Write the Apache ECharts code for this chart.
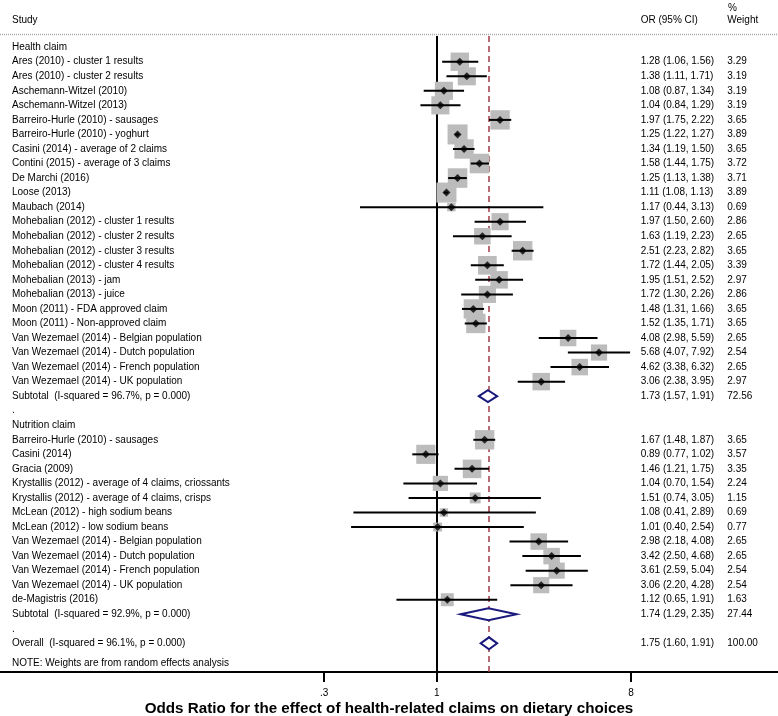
<!DOCTYPE html>
<html><head><meta charset="utf-8">
<script src="https://cdn.jsdelivr.net/npm/echarts@6/dist/echarts.min.js"></script>
<style>html,body{margin:0;padding:0;background:#fff}#c{width:778px;height:716px}</style>
</head><body><div id="c"></div>
<script>
const studies = [
  'Health claim',
  'Ares (2010) - cluster 1 results',
  'Ares (2010) - cluster 2 results',
  'Aschemann-Witzel (2010)',
  'Aschemann-Witzel (2013)',
  'Barreiro-Hurle (2010) - sausages',
  'Barreiro-Hurle (2010) - yoghurt',
  'Casini (2014) - average of 2 claims',
  'Contini (2015) - average of 3 claims',
  'De Marchi (2016)',
  'Loose (2013)',
  'Maubach (2014)',
  'Mohebalian (2012) - cluster 1 results',
  'Mohebalian (2012) - cluster 2 results',
  'Mohebalian (2012) - cluster 3 results',
  'Mohebalian (2012) - cluster 4 results',
  'Mohebalian (2013) - jam',
  'Mohebalian (2013) - juice',
  'Moon (2011) - FDA approved claim',
  'Moon (2011) - Non-approved claim',
  'Van Wezemael (2014) - Belgian population',
  'Van Wezemael (2014) - Dutch population',
  'Van Wezemael (2014) - French population',
  'Van Wezemael (2014) - UK population',
  'Subtotal  (I-squared = 96.7%, p = 0.000)',
  '.',
  'Nutrition claim',
  'Barreiro-Hurle (2010) - sausages',
  'Casini (2014)',
  'Gracia (2009)',
  'Krystallis (2012) - average of 4 claims, criossants',
  'Krystallis (2012) - average of 4 claims, crisps',
  'McLean (2012) - high sodium beans',
  'McLean (2012) - low sodium beans',
  'Van Wezemael (2014) - Belgian population',
  'Van Wezemael (2014) - Dutch population',
  'Van Wezemael (2014) - French population',
  'Van Wezemael (2014) - UK population',
  'de-Magistris (2016)',
  'Subtotal  (I-squared = 92.9%, p = 0.000)',
  '.',
  'Overall  (I-squared = 96.1%, p = 0.000)'
];
const rowKinds = [
  'head',
  'study','study','study','study','study','study','study','study','study','study','study','study',
  'study','study','study','study','study','study','study','study','study','study','study',
  'sub','blank','head',
  'study','study','study','study','study','study','study','study','study','study','study','study',
  'sub','blank','overall'
];
const orVals = [
  null,
  1.28,1.38,1.08,1.04,1.97,1.25,1.34,1.58,1.25,1.11,1.17,1.97,
  1.63,2.51,1.72,1.95,1.72,1.48,1.52,4.08,5.68,4.62,3.06,
  1.73,null,null,
  1.67,0.89,1.46,1.04,1.51,1.08,1.01,2.98,3.42,3.61,3.06,1.12,
  1.74,null,1.75
];
const ciLow = [
  null,
  1.06,1.11,0.87,0.84,1.75,1.22,1.19,1.44,1.13,1.08,0.44,1.50,
  1.19,2.23,1.44,1.51,1.30,1.31,1.35,2.98,4.07,3.38,2.38,
  1.57,null,null,
  1.48,0.77,1.21,0.70,0.74,0.41,0.40,2.18,2.50,2.59,2.20,0.65,
  1.29,null,1.60
];
const ciHigh = [
  null,
  1.56,1.71,1.34,1.29,2.22,1.27,1.50,1.75,1.38,1.13,3.13,2.60,
  2.23,2.82,2.05,2.52,2.26,1.66,1.71,5.59,7.92,6.32,3.95,
  1.91,null,null,
  1.87,1.02,1.75,1.54,3.05,2.89,2.54,4.08,4.68,5.04,4.28,1.91,
  2.35,null,1.91
];
const weights = [
  null,
  3.29,3.19,3.19,3.19,3.65,3.89,3.65,3.72,3.71,3.89,0.69,2.86,
  2.65,3.65,3.39,2.97,2.86,3.65,3.65,2.65,2.54,2.65,2.97,
  72.56,null,null,
  3.65,3.57,3.35,2.24,1.15,0.69,0.77,2.65,2.65,2.54,2.54,1.63,
  27.44,null,100.00
];
const xTickValues = [0.3, 1, 8];
const xTickLabels = ['.3', '1', '8'];
const headerStudy = 'Study';
const headerOR = 'OR (95% CI)';
const headerPct = '%';
const headerWeight = 'Weight';
const noteText = 'NOTE: Weights are from random effects analysis';
const axisTitle = 'Odds Ratio for the effect of health-related claims on dietary choices';

const FONT = "'Liberation Sans', Arial, Helvetica, sans-serif";
const rows = studies.map((_, i) => i);
const valueRows = rows.filter(i => orVals[i] != null);
const overallIdx = rowKinds.indexOf('overall');
const pooledOR = orVals[overallIdx];

const squareData = [], ciData = [], pointData = [], diamondData = [];
rows.forEach(i => {
  if (rowKinds[i] === 'study') {
    squareData.push([orVals[i], i, weights[i]]);
    ciData.push([ciLow[i], ciHigh[i], i]);
    pointData.push([orVals[i], i]);
  } else if (rowKinds[i] === 'sub' || rowKinds[i] === 'overall') {
    diamondData.push([ciLow[i], ciHigh[i], orVals[i], i]);
  }
});
const orText = i => orVals[i].toFixed(2) + ' (' + ciLow[i].toFixed(2) + ', ' + ciHigh[i].toFixed(2) + ')';
const wText = i => weights[i].toFixed(2);

const yMin = -0.77, yMax = 42.97;
function yAx(extra) {
  return Object.assign({
    type: 'value', inverse: true, min: yMin, max: yMax,
    splitLine: {show: false}, axisTick: {show: false},
    axisLine: {show: false, onZero: false}
  }, extra);
}
const labelStyle = {color: '#000', fontSize: 10, fontFamily: FONT};

const chart = echarts.init(document.getElementById('c'), null, {renderer: 'canvas'});
chart.setOption({
  animation: false,
  backgroundColor: '#fff',
  grid: {left: 0, right: 0, top: 36, bottom: 44, containLabel: false, outerBoundsMode: 'none'},
  xAxis: {
    type: 'log', logBase: 1.5, min: 0.009338, max: 38.57,
    splitLine: {show: false},
    axisLine: {onZero: false, lineStyle: {color: '#000', width: 2}},
    axisTick: {customValues: xTickValues, length: 10, lineStyle: {color: '#000', width: 2}},
    axisLabel: Object.assign({
      customValues: xTickValues, margin: 16,
      formatter: v => {
        const k = xTickValues.findIndex(t => Math.abs(t - v) < 1e-6);
        return k >= 0 ? xTickLabels[k] : '';
      }
    }, labelStyle),
    name: axisTitle, nameLocation: 'middle', nameGap: 29, nameMoveOverlap: false,
    nameTextStyle: {fontWeight: 'bold', fontSize: 15.2, color: '#000', fontFamily: FONT}
  },
  yAxis: [
    yAx({position: 'left', axisLabel: Object.assign({inside: true, margin: 12, customValues: rows,
      formatter: v => studies[Math.round(v)] || ''}, labelStyle)}),
    yAx({position: 'right', offset: -137.3, axisLabel: Object.assign({margin: 0, customValues: valueRows,
      formatter: v => orText(Math.round(v))}, labelStyle)}),
    yAx({position: 'right', offset: -50.7, axisLabel: Object.assign({margin: 0, customValues: valueRows,
      formatter: v => wText(Math.round(v))}, labelStyle)})
  ],
  graphic: [
    {type: 'line', silent: true, shape: {x1: 0, y1: 34.5, x2: 778, y2: 34.5},
      style: {stroke: '#a8a8a8', lineWidth: 1.5, lineDash: [1, 1]}},
    {type: 'text', x: 12, y: 20, style: {text: headerStudy, fill: '#000', font: '10px ' + FONT, verticalAlign: 'middle', textAlign: 'left'}},
    {type: 'text', x: 640.7, y: 20, style: {text: headerOR, fill: '#000', font: '10px ' + FONT, verticalAlign: 'middle', textAlign: 'left'}},
    {type: 'text', x: 728, y: 8, style: {text: headerPct, fill: '#000', font: '10px ' + FONT, verticalAlign: 'middle', textAlign: 'left'}},
    {type: 'text', x: 727.3, y: 20, style: {text: headerWeight, fill: '#000', font: '10px ' + FONT, verticalAlign: 'middle', textAlign: 'left'}},
    {type: 'text', x: 12, y: 663, style: {text: noteText, fill: '#000', font: '10px ' + FONT, verticalAlign: 'middle', textAlign: 'left'}}
  ],
  series: [
    {
      type: 'scatter', name: 'weight', symbol: 'rect', z: 2,
      data: squareData,
      symbolSize: v => 20 * Math.sqrt(v[2] / 3.89),
      itemStyle: {color: '#bcbcbc', opacity: 1},
      markLine: {
        silent: true, symbol: 'none', label: {show: false}, z: 1,
        data: [
          {xAxis: 1, lineStyle: {color: '#000', width: 2, type: 'solid'}},
          {xAxis: pooledOR, lineStyle: {color: '#a33a46', width: 1.5, type: [6, 4]}}
        ]
      }
    },
    {
      type: 'custom', name: 'ci', z: 3, data: ciData,
      encode: {x: [0, 1], y: 2},
      renderItem: (params, api) => {
        const a = api.coord([api.value(0), api.value(2)]);
        const b = api.coord([api.value(1), api.value(2)]);
        return {type: 'line', shape: {x1: a[0], y1: a[1], x2: b[0], y2: b[1]},
          style: {stroke: '#000', lineWidth: 2}};
      }
    },
    {
      type: 'scatter', name: 'or', symbol: 'diamond', symbolSize: 8, z: 4,
      data: pointData, itemStyle: {color: '#000'}
    },
    {
      type: 'custom', name: 'pooled', z: 5, data: diamondData,
      encode: {x: [0, 1, 2], y: 3},
      renderItem: (params, api) => {
        const l = api.coord([api.value(0), api.value(3)]);
        const r = api.coord([api.value(1), api.value(3)]);
        const c = api.coord([api.value(2), api.value(3)]);
        const h = 6;
        return {type: 'polygon',
          shape: {points: [[l[0], l[1]], [c[0], c[1] - h], [r[0], r[1]], [c[0], c[1] + h]]},
          style: {fill: '#fff', stroke: '#1a1a7e', lineWidth: 2}};
      }
    }
  ]
});
</script>
</body></html>
